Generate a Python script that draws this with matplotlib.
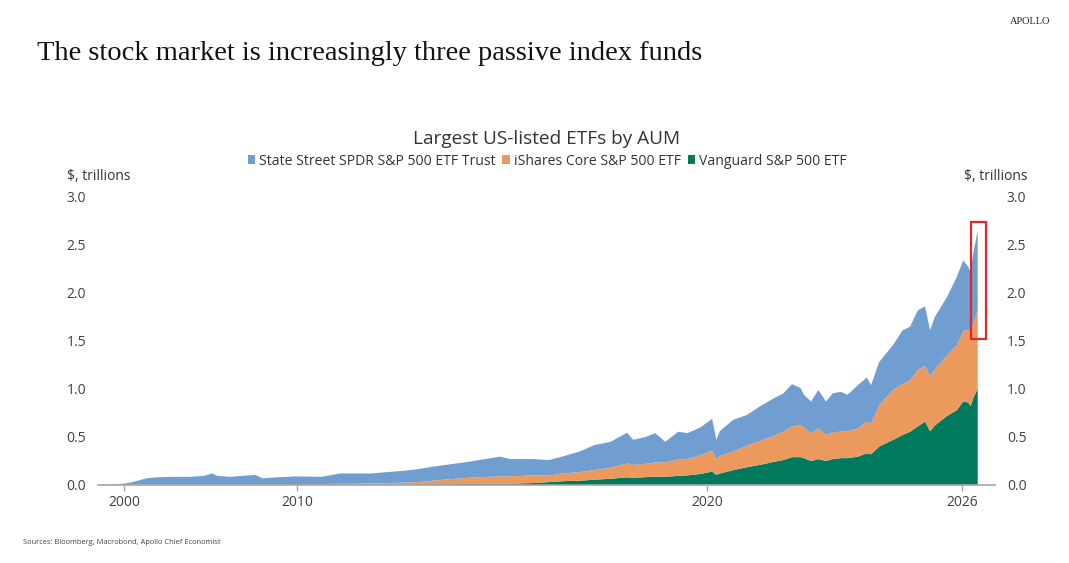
import numpy as np
import matplotlib
matplotlib.use("Agg")
import matplotlib.pyplot as plt
from matplotlib.patches import Rectangle

# ---------------- data, $ trillions ----------------
dates = [1998.6, 1999.4, 2000.0, 2000.5, 2001.0, 2001.3, 2001.9, 2002.7, 2003.8, 2004.6,
         2005.1, 2005.4, 2006.1, 2006.8, 2007.6, 2008.0, 2008.8, 2009.4, 2010.0, 2010.6,
         2011.05, 2011.8, 2012.65, 2012.95, 2013.3, 2014.15, 2014.95, 2015.2, 2015.75, 2016.15,
         2016.5, 2016.9, 2017.25, 2017.65, 2018.05, 2018.2, 2018.5, 2018.74, 2018.98, 2019.3,
         2019.52, 2019.84, 2020.12, 2020.22, 2020.3, 2020.62, 2020.94, 2021.25, 2021.56, 2021.8,
         2022.0, 2022.2, 2022.28, 2022.45, 2022.62, 2022.8, 2022.96, 2023.15, 2023.31, 2023.55,
         2023.76, 2023.86, 2024.05, 2024.38, 2024.6, 2024.78, 2024.96, 2025.13, 2025.25, 2025.36,
         2025.65, 2025.88, 2026.03, 2026.15, 2026.2, 2026.28, 2026.37]

spy = [0.0, 0.005, 0.013, 0.027, 0.051, 0.065, 0.075, 0.080, 0.079, 0.088,
       0.113, 0.088, 0.077, 0.087, 0.096, 0.062, 0.072, 0.076, 0.080, 0.075,
       0.108, 0.105, 0.125, 0.135, 0.145, 0.165, 0.205, 0.180, 0.170, 0.160,
       0.180, 0.215, 0.260, 0.270, 0.320, 0.260, 0.280, 0.305, 0.215, 0.290,
       0.270, 0.290, 0.330, 0.200, 0.260, 0.330, 0.320, 0.360, 0.390, 0.400,
       0.440, 0.385, 0.340, 0.330, 0.400, 0.350, 0.405, 0.415, 0.380, 0.450,
       0.460, 0.400, 0.450, 0.470, 0.560, 0.560, 0.620, 0.620, 0.480, 0.550,
       0.610, 0.710, 0.740, 0.650, 0.640, 0.750, 0.830]

ivv = [0.0, 0.0, 0.002, 0.003, 0.004, 0.005, 0.005, 0.005, 0.006, 0.007,
       0.007, 0.007, 0.008, 0.008, 0.009, 0.008, 0.008, 0.009, 0.010, 0.010,
       0.011, 0.013, 0.021, 0.025, 0.039, 0.065, 0.077, 0.076, 0.080, 0.070,
       0.080, 0.090, 0.100, 0.115, 0.145, 0.135, 0.138, 0.147, 0.150, 0.170,
       0.170, 0.195, 0.220, 0.165, 0.180, 0.195, 0.225, 0.250, 0.270, 0.295,
       0.320, 0.335, 0.320, 0.290, 0.320, 0.270, 0.280, 0.275, 0.280, 0.295,
       0.330, 0.320, 0.430, 0.520, 0.530, 0.535, 0.590, 0.580, 0.570, 0.580,
       0.630, 0.680, 0.730, 0.760, 0.760, 0.780, 0.820]

voo = [0.0, 0.0, 0.0, 0.0, 0.0, 0.0, 0.0, 0.0, 0.0, 0.0,
       0.0, 0.0, 0.0, 0.0, 0.0, 0.0, 0.0, 0.0, 0.0, 0.0,
       0.001, 0.002, 0.004, 0.005, 0.006, 0.010, 0.013, 0.014, 0.020, 0.030,
       0.040, 0.045, 0.055, 0.065, 0.080, 0.075, 0.082, 0.088, 0.085, 0.095,
       0.100, 0.115, 0.140, 0.105, 0.120, 0.155, 0.185, 0.210, 0.240, 0.260,
       0.290, 0.290, 0.280, 0.250, 0.270, 0.250, 0.270, 0.280, 0.280, 0.295,
       0.330, 0.320, 0.400, 0.470, 0.520, 0.555, 0.610, 0.660, 0.560, 0.620,
       0.720, 0.780, 0.870, 0.860, 0.820, 0.920, 1.000]

series_labels = ["State Street SPDR S&P 500 ETF Trust", "iShares Core S&P 500 ETF",
                 "Vanguard S&P 500 ETF"]
colors = ["#709ED0", "#EC995E", "#007A5C"]
xtick_years = [2000, 2010, 2020, 2026]
ytick_vals = [0.0, 0.5, 1.0, 1.5, 2.0, 2.5, 3.0]

# ---------------- x scale: the source axis is compressed before 2010 ----------------
_anchor_years = np.array([1980.0, 2000.0, 2010.0, 2020.0, 2026.0, 2040.0])
_anchor_units = np.array([124 - 20 * 17.3, 124.0, 297.0, 707.0, 962.0, 962 + 14 * 42.5])

def fwd(x):
    return np.interp(np.asarray(x, dtype=float), _anchor_years, _anchor_units)

def inv(u):
    return np.interp(np.asarray(u, dtype=float), _anchor_units, _anchor_years)

W, H = 1069, 563
fig = plt.figure(figsize=(W / 100, H / 100), dpi=100)
fig.patch.set_facecolor("white")

ax = fig.add_axes([98 / W, 1 - 485 / H, (995 - 98) / W, (485 - 197) / H])
ax.set_xscale("function", functions=(fwd, inv))

x = np.array(dates)
polys = ax.stackplot(x, np.array(voo), np.array(ivv), np.array(spy),
                     colors=[colors[2], colors[1], colors[0]], linewidth=0)

ax.set_xlim(inv(98), inv(995))
ax.set_ylim(0, 3.0)

for s in ["top", "left", "right"]:
    ax.spines[s].set_visible(False)
ax.spines["bottom"].set_color("#A6A6A6")
ax.spines["bottom"].set_linewidth(1.2)

ax.set_xticks(xtick_years)
ax.set_xticklabels([str(y) for y in xtick_years], fontfamily="Open Sans", fontsize=10, color="#404040")
ax.xaxis.set_minor_locator(matplotlib.ticker.NullLocator())
ax.tick_params(axis="x", direction="out", length=4, width=1, color="#A6A6A6", pad=3)

ax.set_yticks(ytick_vals)
ax.set_yticklabels([f"{v:.1f}" for v in ytick_vals], fontfamily="Open Sans", fontsize=10, color="#404040")
ax.tick_params(axis="y", left=False, right=False, labelleft=True, labelright=True, pad=5)
for lab in ax.yaxis.get_ticklabels(which="both"):
    lab.set_fontfamily("Open Sans")
for t in ax.yaxis.get_major_ticks():
    t.label2.set_fontfamily("Open Sans")
    t.label2.set_fontsize(10)
    t.label2.set_color("#404040")

# red highlight box around latest data
x0, x1 = inv(971), inv(986)
ax.add_patch(Rectangle((x0, 1.52), x1 - x0, 2.74 - 1.52, fill=False,
                       edgecolor="#E3262B", linewidth=1.6, clip_on=False, zorder=5))

# legend
handles = [polys[2], polys[1], polys[0]]
leg = fig.legend(handles, series_labels, loc="center", bbox_to_anchor=(547 / W, 1 - 161 / H),
                 ncol=3, frameon=False, handlelength=0.55, handleheight=0.55,
                 handletextpad=0.25, columnspacing=0.5, borderaxespad=0,
                 prop=dict(family="Open Sans", size=10.1))
for t in leg.get_texts():
    t.set_color("#333333")

# texts
fig.text(37 / W, 1 - 53 / H, "The stock market is increasingly three passive index funds",
         family="Liberation Serif", fontsize=20.5, color="#111111", va="center", ha="left")
fig.text(1050 / W, 1 - 21 / H, "APOLLO", family="Liberation Serif", fontsize=7.5,
         color="#222222", va="center", ha="right")
fig.text(547 / W, 1 - 139 / H, "Largest US-listed ETFs by AUM", family="Open Sans",
         fontsize=13.7, color="#333333", va="center", ha="center")
fig.text(67 / W, 1 - 176 / H, "$, trillions", family="Open Sans", fontsize=10,
         color="#333333", va="center", ha="left")
fig.text(1027 / W, 1 - 176 / H, "$, trillions", family="Open Sans", fontsize=10,
         color="#333333", va="center", ha="right")
fig.text(23 / W, 1 - 543 / H, "Sources: Bloomberg, Macrobond, Apollo Chief Economist",
         family="Open Sans", fontsize=5.4, color="#444444", va="center", ha="left")

fig.savefig("out.png", dpi=100, facecolor="white")
